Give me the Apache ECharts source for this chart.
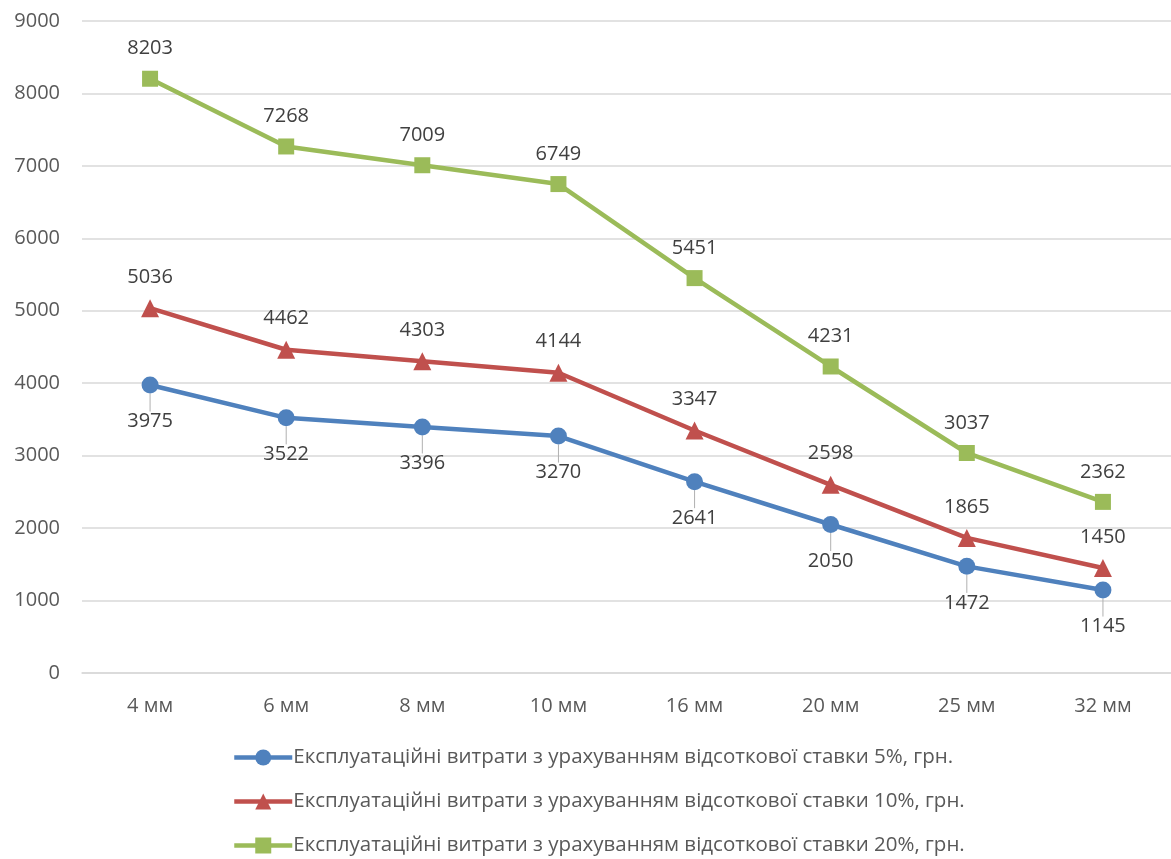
<!DOCTYPE html>
<html>
<head>
<meta charset="utf-8">
<script src="https://cdn.jsdelivr.net/npm/echarts@6/dist/echarts.min.js"></script>
<style>
  html, body { margin: 0; padding: 0; background: #fff; }
  #chart { width: 1171px; height: 859px; }
</style>
</head>
<body>
<div id="chart"></div>
<script>
// Diameters (x-axis categories)
const categories = ['4 мм', '6 мм', '8 мм', '10 мм', '16 мм', '20 мм', '25 мм', '32 мм'];

// Operating costs, UAH, by interest rate
const costs5 = [3975, 3522, 3396, 3270, 2641, 2050, 1472, 1145];
const costs10 = [5036, 4462, 4303, 4144, 3347, 2598, 1865, 1450];
const costs20 = [8203, 7268, 7009, 6749, 5451, 4231, 3037, 2362];

const seriesNames = [
  'Експлуатаційні витрати з урахуванням відсоткової ставки 5%, грн.',
  'Експлуатаційні витрати з урахуванням відсоткової ставки 10%, грн.',
  'Експлуатаційні витрати з урахуванням відсоткової ставки 20%, грн.'
];

const yTicks = { min: 0, max: 9000, interval: 1000 };

const FONT = 'Open Sans';
const labelText = { fontFamily: FONT, fontSize: 20, color: '#404040' };

const chart = echarts.init(document.getElementById('chart'), null, { renderer: 'canvas' });

function makeSeries(name, data, color, symbol, size, below) {
  return {
    name: name,
    type: 'line',
    data: data,
    symbol: symbol,
    symbolSize: size,
    lineStyle: { color: color, width: 4.5 },
    itemStyle: { color: color },
    label: Object.assign({
      show: true,
      position: below ? 'bottom' : 'top',
      distance: below ? 4 : 12
    }, labelText),
    labelLayout: below ? { dy: 14 } : null,
    labelLine: below ? { show: true, lineStyle: { color: '#b0b0b0', width: 1 } } : { show: false },
    emphasis: { disabled: true },
    z: 3
  };
}

// one legend block per row, stacked vertically
const legends = seriesNames.map(function (n, i) {
  return {
    orient: 'horizontal',
    left: 232,
    top: 747 + i * 44,
    padding: 0,
    itemWidth: 58,
    itemHeight: 20,
    lineStyle: { width: 4.5 },
    textStyle: { fontFamily: FONT, fontSize: 20.5, color: '#595959', padding: [0, 0, 0, -4] },
    data: [n]
  };
});

chart.setOption({
  animation: false,
  backgroundColor: '#ffffff',
  grid: { left: 82, right: -5, top: 21, height: 652 },
  xAxis: {
    type: 'category',
    data: categories,
    boundaryGap: true,
    axisLine: { show: true, lineStyle: { color: '#d9d9d9', width: 1.5 } },
    axisTick: { show: false },
    axisLabel: { fontFamily: FONT, fontSize: 20, color: '#595959', margin: 23 }
  },
  yAxis: {
    type: 'value',
    min: yTicks.min,
    max: yTicks.max,
    interval: yTicks.interval,
    axisLine: { show: false },
    axisTick: { show: false },
    splitLine: { lineStyle: { color: '#d9d9d9', width: 1.5 } },
    axisLabel: { fontFamily: FONT, fontSize: 20, color: '#595959', margin: 22, formatter: function (v) { return String(v); } }
  },
  legend: legends,
  series: [
    makeSeries(seriesNames[0], costs5, '#4f81bd', 'circle', 17, true),
    makeSeries(seriesNames[1], costs10, '#c0504d', 'triangle', 18, false),
    makeSeries(seriesNames[2], costs20, '#9bbb59', 'rect', 16, false)
  ]
});
</script>
</body>
</html>
